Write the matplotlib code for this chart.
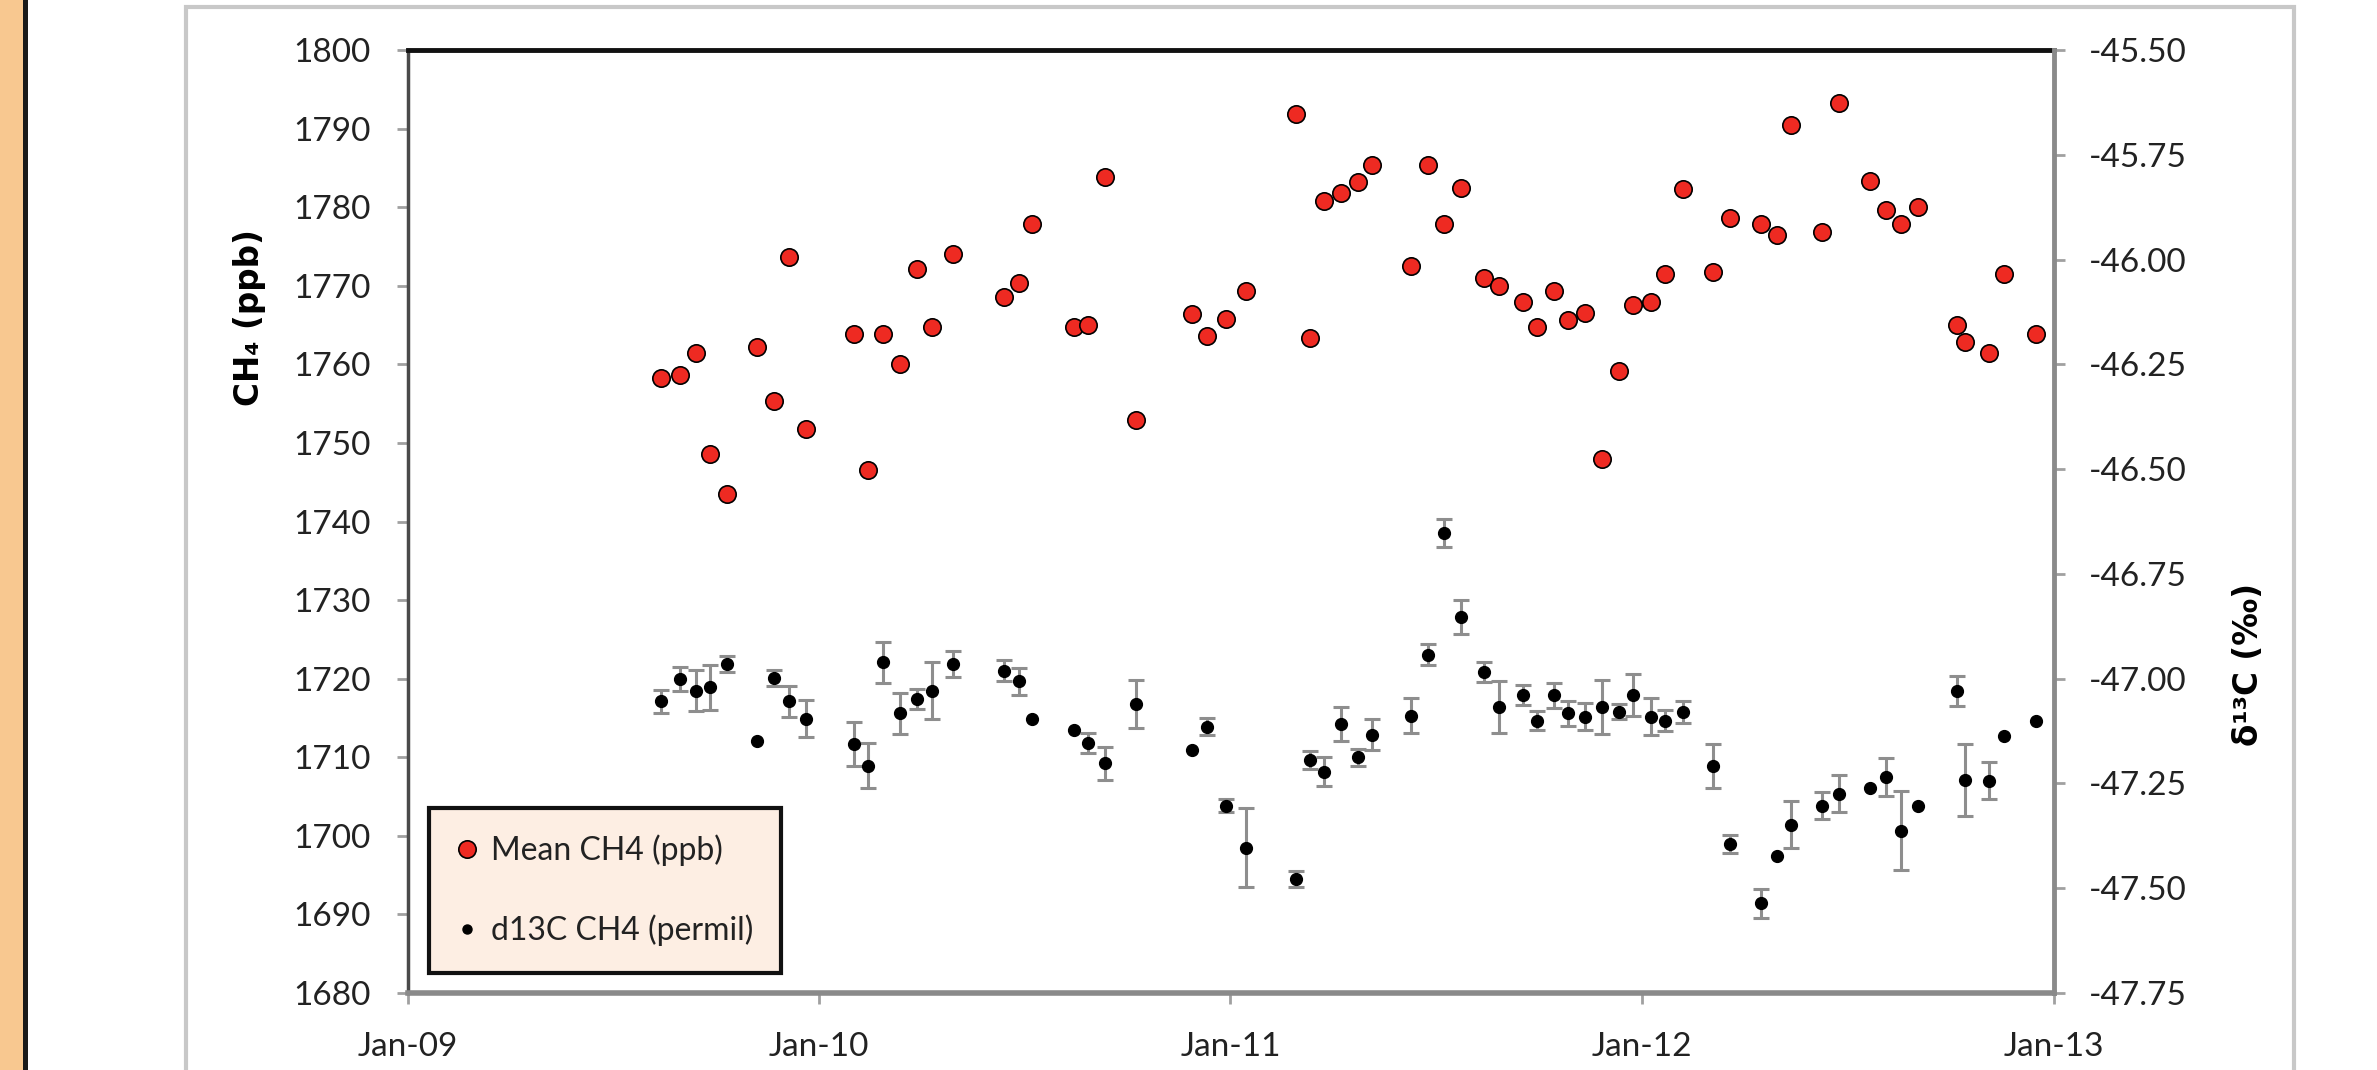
'''CH4 mixing ratio and d13C time series, two y axes'''

import pandas as pd
import matplotlib
matplotlib.use("Agg")
from matplotlib import pyplot as plt
from matplotlib import dates as mdates
from matplotlib.patches import Rectangle
from matplotlib.lines import Line2D

##########################################
# data

sample_dates = [
  "2009-08-14", "2009-08-30", "2009-09-14", "2009-09-26", "2009-10-11", "2009-11-07",
  "2009-11-22", "2009-12-05", "2009-12-20", "2010-02-01", "2010-02-13", "2010-02-27",
  "2010-03-14", "2010-03-29", "2010-04-11", "2010-04-30", "2010-06-14", "2010-06-27",
  "2010-07-09", "2010-08-15", "2010-08-28", "2010-09-12", "2010-10-09", "2010-11-28",
  "2010-12-11", "2010-12-28", "2011-01-15", "2011-02-28", "2011-03-13", "2011-03-25",
  "2011-04-09", "2011-04-24", "2011-05-07", "2011-06-10", "2011-06-25", "2011-07-10",
  "2011-07-25", "2011-08-14", "2011-08-27", "2011-09-18", "2011-09-30", "2011-10-15",
  "2011-10-28", "2011-11-12", "2011-11-27", "2011-12-12", "2011-12-24", "2012-01-09",
  "2012-01-22", "2012-02-07", "2012-03-04", "2012-03-19", "2012-04-16", "2012-04-30",
  "2012-05-13", "2012-06-09", "2012-06-24", "2012-07-22", "2012-08-05", "2012-08-18",
  "2012-09-02", "2012-10-07", "2012-10-14", "2012-11-04", "2012-11-18", "2012-12-16"]

mean_ch4 = [
  1758.2, 1758.6, 1761.4, 1748.6, 1743.5, 1762.2, 1755.3, 1773.6, 1751.8, 1763.9, 1746.5,
  1763.9, 1760.0, 1772.1, 1764.7, 1774.0, 1768.6, 1770.4, 1777.9, 1764.7, 1765.0, 1783.9,
  1752.9, 1766.4, 1763.6, 1765.8, 1769.3, 1791.8, 1763.3, 1780.8, 1781.8, 1783.2, 1785.4,
  1772.5, 1785.4, 1777.8, 1782.5, 1771.0, 1770.0, 1767.9, 1764.7, 1769.3, 1765.7, 1766.5,
  1747.9, 1759.2, 1767.5, 1767.9, 1771.5, 1782.3, 1771.8, 1778.6, 1777.9, 1776.5, 1790.4,
  1776.8, 1793.3, 1783.3, 1779.7, 1777.8, 1780.0, 1765.0, 1762.8, 1761.4, 1771.5, 1763.9]

d13c_ch4 = [
  -47.054, -47.001, -47.029, -47.021, -46.965, -47.149, -46.998, -47.054, -47.096, -47.156,
  -47.208, -46.961, -47.083, -47.048, -47.029, -46.965, -46.981, -47.006, -47.096, -47.122,
  -47.154, -47.202, -47.060, -47.170, -47.115, -47.303, -47.403, -47.478, -47.194, -47.222,
  -47.108, -47.188, -47.134, -47.088, -46.943, -46.652, -46.853, -46.985, -47.068, -47.040,
  -47.100, -47.040, -47.083, -47.091, -47.067, -47.079, -47.040, -47.091, -47.100, -47.080,
  -47.208, -47.395, -47.536, -47.423, -47.349, -47.303, -47.274, -47.262, -47.235, -47.363,
  -47.303, -47.029, -47.242, -47.243, -47.136, -47.102]

# half widths of the error bars (permil), 0 where none is drawn
d13c_err = [
  0.028, 0.029, 0.049, 0.054, 0.020, 0.0, 0.019, 0.037, 0.044, 0.052,
  0.054, 0.049, 0.049, 0.024, 0.068, 0.030, 0.025, 0.032, 0.0, 0.0,
  0.024, 0.039, 0.058, 0.0, 0.020, 0.016, 0.094, 0.018, 0.022, 0.034,
  0.040, 0.021, 0.037, 0.041, 0.025, 0.033, 0.041, 0.024, 0.062, 0.024,
  0.022, 0.030, 0.029, 0.032, 0.065, 0.018, 0.050, 0.044, 0.025, 0.026,
  0.053, 0.021, 0.034, 0.0, 0.056, 0.032, 0.044, 0.0, 0.046, 0.094,
  0.0, 0.036, 0.085, 0.044, 0.0, 0.0]

year_ticks = ["2009-01-01", "2010-01-01", "2011-01-01", "2012-01-01", "2013-01-01"]
left_ticks = list(range(1680, 1801, 10))
right_ticks = [-47.75, -47.50, -47.25, -47.00, -46.75, -46.50, -46.25, -46.00, -45.75, -45.50]

##########################################

plt.rcParams['font.family'] = ['Lato', 'DejaVu Sans']

W, H = 2377, 1070
fig = plt.figure(figsize=(W/100, H/100), dpi=100)

#orange strip and dark line on far left
fig.patches.append(Rectangle((0, 0), 23/W, 1, transform=fig.transFigure, facecolor='#f8c890', edgecolor='none'))
fig.patches.append(Rectangle((23/W, 0), 5/W, 1, transform=fig.transFigure, facecolor='#1a1a1a', edgecolor='none'))
#light grey chart border (bottom runs off the picture)
fig.patches.append(Rectangle((186/W, -0.05), (2294-186)/W, 1.05-7/H, transform=fig.transFigure,
                             facecolor='none', edgecolor='#c8c8c8', linewidth=3))

#axes box in pixels: x 408-2054, y 50-993
ax = fig.add_axes([408/W, 1-993/H, (2054-408)/W, (993-50)/H])
ax2 = ax.twinx()

dates = pd.to_datetime(sample_dates)
err_x = [d for d, e in zip(dates, d13c_err) if e > 0]
err_y = [v for v, e in zip(d13c_ch4, d13c_err) if e > 0]
err_e = [e for e in d13c_err if e > 0]

#CH4 on left axis
ax.plot(dates, mean_ch4, 'o', color='#ee2a22', markeredgecolor='black', markeredgewidth=1.2,
        markersize=12.5, zorder=3)

#d13C on right axis, grey error bars
ax2.errorbar(err_x, err_y, yerr=err_e, fmt='none', ecolor='#8e8e8e', elinewidth=2.2,
             capsize=5.5, capthick=2.2, zorder=2)
ax2.plot(dates, d13c_ch4, 'o', color='black', markersize=8.5, zorder=3)

ax.set_xlim(pd.Timestamp(year_ticks[0]), pd.Timestamp(year_ticks[-1]))
ax.set_ylim(1680, 1800)
ax2.set_ylim(-47.75, -45.50)

ax.set_xticks(pd.to_datetime(year_ticks))
ax.xaxis.set_major_formatter(mdates.DateFormatter('%b-%y'))
ax.set_yticks(left_ticks)
ax2.set_yticks(right_ticks)
ax2.set_yticklabels([f"{v:.2f}" for v in right_ticks])

ax.tick_params(axis='x', direction='out', length=8, width=2, color='#a0a0a0', pad=20,
               labelsize=24, labelcolor='#222222')
ax.tick_params(axis='y', direction='out', length=8, width=2, color='#a0a0a0', pad=19,
               labelsize=24, labelcolor='#222222')
ax2.tick_params(axis='y', direction='out', length=8, width=2, color='#a0a0a0', pad=17,
                labelsize=24, labelcolor='#222222')

#frame styling
ax.spines['top'].set_color('#111111')
ax.spines['top'].set_linewidth(3.5)
ax.spines['left'].set_color('#4a4a4a')
ax.spines['left'].set_linewidth(2.5)
ax.spines['bottom'].set_color('#8a8a8a')
ax.spines['bottom'].set_linewidth(4)
ax.spines['right'].set_visible(False)
for s in ['top', 'left', 'bottom']:
  ax2.spines[s].set_visible(False)
ax2.spines['right'].set_color('#8a8a8a')
ax2.spines['right'].set_linewidth(3.5)

#axis titles
fig.text(250/W, 1-318/H, 'CH₄ (ppb)', rotation=90, ha='center', va='center',
         fontsize=23.5, fontweight='bold', family='DejaVu Sans')
fig.text(2248/W, 1-664/H, 'δ¹³C (‰)', rotation=90, ha='center', va='center',
         fontsize=23.5, fontweight='bold', family='DejaVu Sans')

#legend
handles = [Line2D([], [], marker='o', linestyle='none', color='#ee2a22', markeredgecolor='black',
                  markeredgewidth=1.2, markersize=12.5, label='Mean CH4 (ppb)'),
           Line2D([], [], marker='o', linestyle='none', color='black', markersize=6.5,
                  label='d13C CH4 (permil)')]
leg = ax2.legend(handles=handles, loc='lower left', bbox_to_anchor=((429-408)/1646, (993-973)/943),
                 fontsize=23, frameon=True, fancybox=False, framealpha=1, facecolor='#fdeee3',
                 edgecolor='#111111', borderpad=0.85, labelspacing=1.5, handlelength=0.7,
                 handletextpad=0.4, borderaxespad=0)
leg.get_frame().set_linewidth(3)
for t in leg.get_texts():
  t.set_color('#222222')

fig.savefig('out.png', dpi=100)
